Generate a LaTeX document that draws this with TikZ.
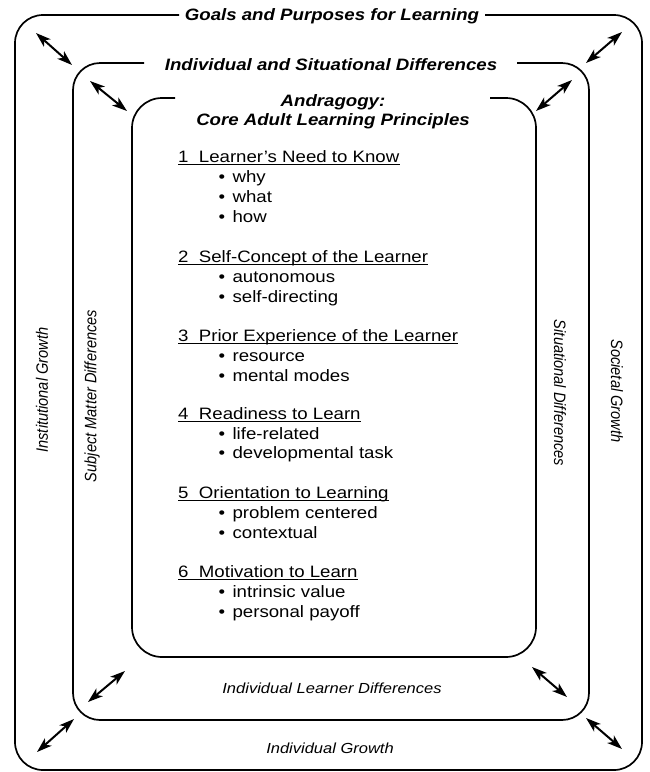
\documentclass[tikz,border=0pt]{standalone}
\usepackage{fontspec}
\setmainfont{Liberation Sans}
\usetikzlibrary{arrows.meta,calc}
\tikzset{
  boxline/.style={line width=1.7pt},
  dbl/.style={{Stealth[length=15pt,width=10pt,inset=4pt]}-{Stealth[length=15pt,width=10pt,inset=4pt]}, line width=2pt},
  txt/.style={inner sep=0pt, xscale=1.13},
  titlef/.style={txt, font=\fontsize{16.5}{19.8}\selectfont\bfseries\itshape},
  labf/.style={txt, font=\fontsize{14.6}{17}\selectfont\itshape},
  headf/.style={txt, anchor=base west, font=\fontsize{16.5}{19.8}\selectfont},
  itemf/.style={txt, anchor=base west, font=\fontsize{16.5}{19.8}\selectfont},
  ul/.style={line width=1.1pt}
}
\newcommand{\itm}[1]{\textbullet\hspace{6.5pt}#1}
\begin{document}
\begin{tikzpicture}[x=1pt,y=-1pt]
\useasboundingbox (0,0) rectangle (649,772);
% boxes
\draw[boxline, rounded corners=28pt] (179,15) -- (15,15) -- (15,770) -- (642,770) -- (642,15) -- (485,15);
\draw[boxline, rounded corners=27pt] (144,63) -- (73,63) -- (73,720) -- (589,720) -- (589,63) -- (517,63);
\draw[boxline, rounded corners=30pt] (175,98) -- (132,98) -- (132,657) -- (536,657) -- (536,98) -- (490,98);
% titles
\node[titlef, anchor=base] (goals) at (332,20) {Goals and Purposes for Learning};
\node[titlef, anchor=base] (isd) at (331,70) {Individual and Situational Differences};
\node[titlef, anchor=base] (andr) at (333,106) {Andragogy:};
\node[titlef, anchor=base] (core) at (333,125) {Core Adult Learning Principles};
% side labels
\node[labf, rotate=90] (ig) at (42,390) {Institutional Growth};
\node[labf, rotate=90] (smd) at (92,396) {Subject Matter Differences};
\node[labf, rotate=-90] (sitd) at (560,393) {Situational Differences};
\node[labf, rotate=-90] (sg) at (617,391) {Societal Growth};
\node[labf, anchor=base] (ild) at (332,693) {Individual Learner Differences};
\node[labf, anchor=base] (indg) at (330,753) {Individual Growth};
% principles
\node[headf] (h1) at (178,162) {1~~Learner's Need to Know};
\node[itemf] (b11) at (218.5,182) {\itm{why}};
\node[itemf] (b12) at (218.5,202) {\itm{what}};
\node[itemf] (b13) at (218.5,222) {\itm{how}};
\node[headf] (h2) at (178,262) {2~~Self-Concept of the Learner};
\node[itemf] (b21) at (218.5,282) {\itm{autonomous}};
\node[itemf] (b22) at (218.5,302) {\itm{self-directing}};
\node[headf] (h3) at (178,341) {3~~Prior Experience of the Learner};
\node[itemf] (b31) at (218.5,361) {\itm{resource}};
\node[itemf] (b32) at (218.5,381) {\itm{mental modes}};
\node[headf] (h4) at (178,419) {4~~Readiness to Learn};
\node[itemf] (b41) at (218.5,439) {\itm{life-related}};
\node[itemf] (b42) at (218.5,458) {\itm{developmental task}};
\node[headf] (h5) at (178,498) {5~~Orientation to Learning};
\node[itemf] (b51) at (218.5,518) {\itm{problem centered}};
\node[itemf] (b52) at (218.5,538) {\itm{contextual}};
\node[headf] (h6) at (178,577) {6~~Motivation to Learn};
\node[itemf] (b61) at (218.5,597) {\itm{intrinsic value}};
\node[itemf] (b62) at (218.5,617) {\itm{personal payoff}};
\foreach \h in {h1,h2,h3,h4,h5,h6}
  \draw[ul] ($(\h.base west)+(0,2.6)$) -- ($(\h.base east)+(0,2.6)$);
% arrows
\coordinate (tl1) at (36,33);   \coordinate (tl2) at (72,65);
\coordinate (tl3) at (90,81);   \coordinate (tl4) at (127,111);
\coordinate (tr1) at (622,32);  \coordinate (tr2) at (586,63);
\coordinate (tr3) at (572,80);  \coordinate (tr4) at (536,111);
\coordinate (bl1) at (125,671); \coordinate (bl2) at (88,702);
\coordinate (bl3) at (74,719);  \coordinate (bl4) at (37,752);
\coordinate (br1) at (532,667); \coordinate (br2) at (567,697);
\coordinate (br3) at (586,718); \coordinate (br4) at (622,749);
\draw[dbl] (tl1) -- (tl2);
\draw[dbl] (tl3) -- (tl4);
\draw[dbl] (tr1) -- (tr2);
\draw[dbl] (tr3) -- (tr4);
\draw[dbl] (bl1) -- (bl2);
\draw[dbl] (bl3) -- (bl4);
\draw[dbl] (br1) -- (br2);
\draw[dbl] (br3) -- (br4);
\end{tikzpicture}
\end{document}
